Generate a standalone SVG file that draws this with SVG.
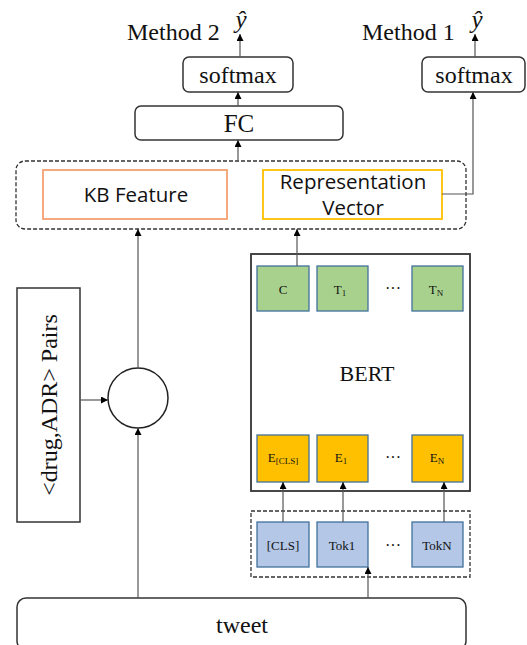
<svg xmlns="http://www.w3.org/2000/svg" width="527" height="645" viewBox="0 0 527 645">
<defs>
<marker id="ah" viewBox="0 0 10 10" refX="10" refY="5" markerWidth="7" markerHeight="7" orient="auto" markerUnits="userSpaceOnUse"><path d="M0,0 L10,5 L0,10 z" fill="#000"/></marker>
<style>
.serif{font-family:"Liberation Serif","Times New Roman",serif;fill:#111}
.sans{font-family:"Open Sans","Liberation Sans",sans-serif;fill:#111}
.box{fill:#fff;stroke:#333;stroke-width:1.5}
.dash{fill:none;stroke:#333;stroke-width:1.3;stroke-dasharray:4,2}
.green{fill:#A9D18E;stroke:#41719C;stroke-width:1.3}
.orange{fill:#FFC000;stroke:#41719C;stroke-width:1.3}
.blue{fill:#B4C7E7;stroke:#41719C;stroke-width:1.3}
.conn{fill:none;stroke:#555;stroke-width:1.2}
</style>
</defs>
<rect width="527" height="645" fill="#fff"/>

<g id="labels">
<text class="serif" x="127" y="40" font-size="24">Method 2</text>
<text class="serif" x="241" y="28" font-size="25" font-style="italic" text-anchor="middle">ŷ</text>
<text class="serif" x="362" y="40" font-size="24">Method 1</text>
<text class="serif" x="477" y="28" font-size="25" font-style="italic" text-anchor="middle">ŷ</text>
</g>

<g id="softmax2"><rect class="box" x="183" y="57" width="110" height="35" rx="6"/><text class="serif" x="238" y="83" font-size="24" text-anchor="middle">softmax</text></g>
<g id="fc"><rect class="box" x="135" y="106" width="208" height="34" rx="6"/><text class="serif" x="239" y="132" font-size="25" text-anchor="middle">FC</text></g>
<g id="softmax1"><rect class="box" x="422" y="57" width="103" height="35" rx="6"/><text class="serif" x="474" y="83" font-size="24" text-anchor="middle">softmax</text></g>

<g id="concat"><rect class="dash" x="16" y="161" width="450" height="68" rx="9"/></g>
<g id="kb"><rect x="43" y="170" width="184" height="49" fill="#fff" stroke="#F4A070" stroke-width="1.8"/><text class="sans" x="136" y="202" font-size="20.5" text-anchor="middle">KB Feature</text></g>
<g id="rep"><rect x="263" y="170" width="179" height="49" fill="#fff" stroke="#FFC000" stroke-width="1.8"/><text class="sans" x="353" y="189" font-size="20.5" text-anchor="middle">Representation</text><text class="sans" x="353" y="215" font-size="20.5" text-anchor="middle">Vector</text></g>

<g id="bert"><rect x="251" y="254" width="219" height="237" fill="#fff" stroke="#333" stroke-width="1.8"/><text class="serif" x="367" y="381" font-size="22" text-anchor="middle">BERT</text></g>
<g id="c"><rect class="green" x="257" y="266" width="52" height="45"/><text class="serif" x="283" y="294" font-size="13" text-anchor="middle">C</text></g>
<g id="t1"><rect class="green" x="317" y="266" width="51" height="45"/><text class="serif" x="340" y="294" font-size="13" text-anchor="middle">T<tspan font-size="9" dy="2">1</tspan></text></g>
<g id="tdots"><text class="serif" x="393" y="294" font-size="16" text-anchor="middle">···</text></g>
<g id="tn"><rect class="green" x="412" y="266" width="51" height="45"/><text class="serif" x="436" y="294" font-size="13" text-anchor="middle">T<tspan font-size="9" dy="2">N</tspan></text></g>

<g id="ecls"><rect class="orange" x="257" y="435" width="52" height="47"/><text class="serif" x="283" y="462" font-size="13" text-anchor="middle">E<tspan font-size="9" dy="2">[CLS]</tspan></text></g>
<g id="e1"><rect class="orange" x="317" y="435" width="51" height="47"/><text class="serif" x="341" y="462" font-size="13" text-anchor="middle">E<tspan font-size="9" dy="2">1</tspan></text></g>
<g id="edots"><text class="serif" x="393" y="463" font-size="16" text-anchor="middle">···</text></g>
<g id="en"><rect class="orange" x="412" y="435" width="51" height="47"/><text class="serif" x="437" y="462" font-size="13" text-anchor="middle">E<tspan font-size="9" dy="2">N</tspan></text></g>

<g id="tokens"><rect class="dash" x="251" y="511" width="219" height="66"/></g>
<g id="cls"><rect class="blue" x="257" y="522" width="52" height="45"/><text class="serif" x="283" y="550" font-size="13" text-anchor="middle">[CLS]</text></g>
<g id="tok1"><rect class="blue" x="317" y="522" width="51" height="45"/><text class="serif" x="342" y="550" font-size="13" text-anchor="middle">Tok1</text></g>
<g id="tokdots"><text class="serif" x="393" y="551" font-size="16" text-anchor="middle">···</text></g>
<g id="tokn"><rect class="blue" x="412" y="522" width="51" height="45"/><text class="serif" x="437" y="550" font-size="13" text-anchor="middle">TokN</text></g>

<g id="pairs"><rect class="box" x="17" y="288" width="63" height="234"/><text class="serif" x="0" y="0" font-size="24" text-anchor="middle" transform="translate(57,405) rotate(-90)">&lt;drug,ADR&gt; Pairs</text></g>
<g id="join"><circle cx="138" cy="398" r="30" fill="#fff" stroke="#222" stroke-width="1.5"/></g>
<g id="tweet"><rect class="box" x="17" y="598" width="449" height="52" rx="9"/><text class="serif" x="242" y="633" font-size="24" text-anchor="middle">tweet</text></g>

<g id="connectors">
<line class="conn" x1="240" y1="57" x2="240" y2="34" marker-end="url(#ah)"/>
<line class="conn" x1="238" y1="106" x2="238" y2="92" marker-end="url(#ah)"/>
<line class="conn" x1="238" y1="161" x2="238" y2="140" marker-end="url(#ah)"/>
<line class="conn" x1="475" y1="57" x2="475" y2="34" marker-end="url(#ah)"/>
<polyline class="conn" points="442,194 473,194 473,92" marker-end="url(#ah)"/>
<line class="conn" x1="297" y1="266" x2="297" y2="229" marker-end="url(#ah)"/>
<line class="conn" x1="138" y1="368" x2="138" y2="229" marker-end="url(#ah)"/>
<line class="conn" x1="80" y1="400" x2="108" y2="400" marker-end="url(#ah)"/>
<line class="conn" x1="138" y1="598" x2="138" y2="428" marker-end="url(#ah)"/>
<line class="conn" x1="368" y1="598" x2="368" y2="567" marker-end="url(#ah)"/>
<line class="conn" x1="283" y1="522" x2="283" y2="482" marker-end="url(#ah)"/>
<line class="conn" x1="343" y1="522" x2="343" y2="482" marker-end="url(#ah)"/>
<line class="conn" x1="444" y1="522" x2="444" y2="482" marker-end="url(#ah)"/>
</g>
</svg>
